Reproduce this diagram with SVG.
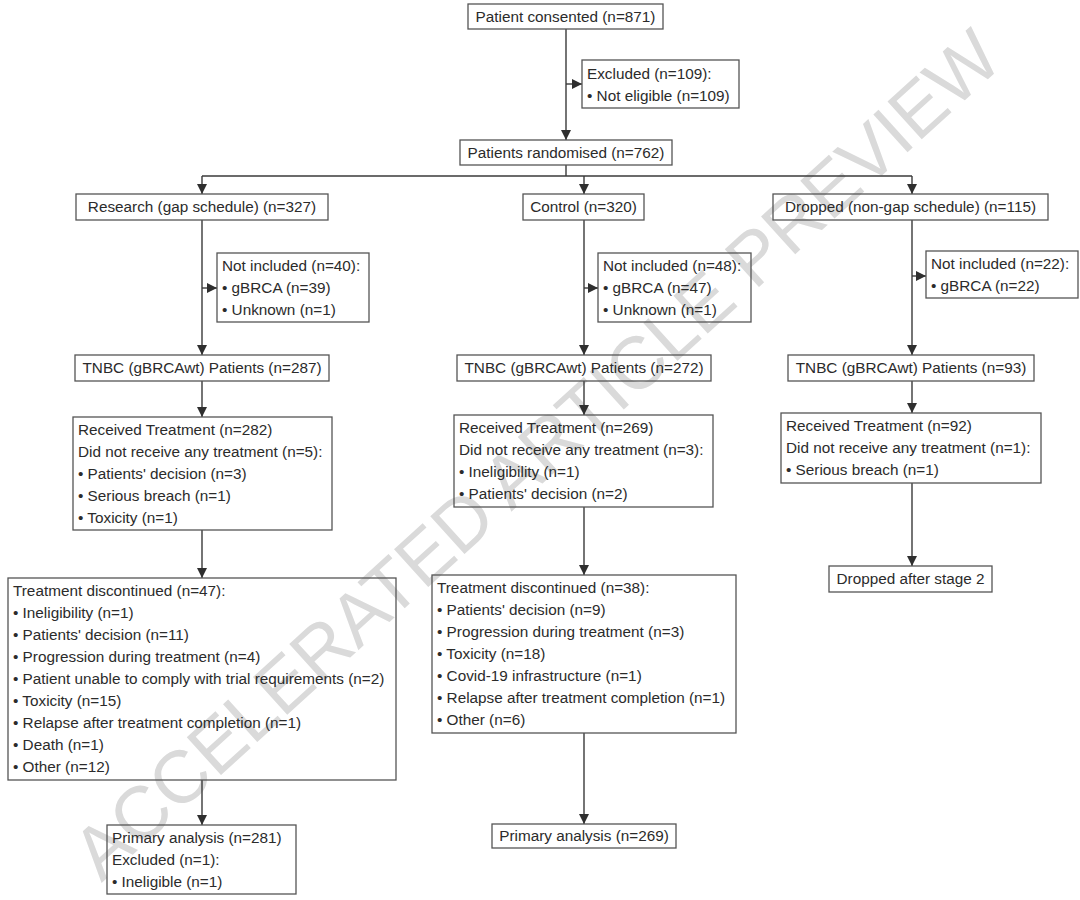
<svg xmlns="http://www.w3.org/2000/svg" width="1080" height="900" viewBox="0 0 1080 900">
<defs>
<style>
.box{fill:none;stroke:#555;stroke-width:1.3}
.t{font-family:"Liberation Sans",Arial,sans-serif;font-size:15.3px;fill:#2b2b2b}
.c{text-anchor:middle}
.ln{fill:none;stroke:#3a3a3a;stroke-width:1.4}
.wm{font-family:"Liberation Sans",Arial,sans-serif;font-size:74px;fill:#dadada;text-anchor:middle}
</style>
<marker id="ah" markerUnits="userSpaceOnUse" markerWidth="10" markerHeight="10" refX="10" refY="5" orient="auto">
<path d="M0,0 L10,5 L0,10 Z" fill="#2f2f2f"/>
</marker>
</defs>
<rect width="1080" height="900" fill="#fff"/>
<g id="watermark">
<text class="wm" x="536" y="480" transform="rotate(-42.2 536 454)" textLength="1220" lengthAdjust="spacing">ACCELERATED ARTICLE PREVIEW</text>
</g>
<g id="connectors">
<path class="ln" d="M566,29 V140" marker-end="url(#ah)"/>
<path class="ln" d="M566,84 H582" marker-end="url(#ah)"/>
<path class="ln" d="M566,165 V176"/>
<path class="ln" d="M202,176 H912"/>
<path class="ln" d="M202,176 V194" marker-end="url(#ah)"/>
<path class="ln" d="M584,176 V194" marker-end="url(#ah)"/>
<path class="ln" d="M912,176 V194" marker-end="url(#ah)"/>
<path class="ln" d="M202,220 V355" marker-end="url(#ah)"/>
<path class="ln" d="M202,288 H217" marker-end="url(#ah)"/>
<path class="ln" d="M584,220 V355" marker-end="url(#ah)"/>
<path class="ln" d="M584,288 H598" marker-end="url(#ah)"/>
<path class="ln" d="M912,220 V355" marker-end="url(#ah)"/>
<path class="ln" d="M912,276 H926" marker-end="url(#ah)"/>
<path class="ln" d="M202,381 V417" marker-end="url(#ah)"/>
<path class="ln" d="M584,381 V415" marker-end="url(#ah)"/>
<path class="ln" d="M912,381 V413" marker-end="url(#ah)"/>
<path class="ln" d="M202,530 V578" marker-end="url(#ah)"/>
<path class="ln" d="M584,507 V575" marker-end="url(#ah)"/>
<path class="ln" d="M912,483 V566" marker-end="url(#ah)"/>
<path class="ln" d="M202,780 V825" marker-end="url(#ah)"/>
<path class="ln" d="M584,733 V824" marker-end="url(#ah)"/>
</g>
<g id="consented"><rect class="box" x="468" y="4" width="195" height="25"/><text class="t c" x="565.5" y="22">Patient consented (n=871)</text></g>
<g id="excluded109"><rect class="box" x="582" y="60" width="157" height="48"/><text class="t" x="587" y="79">Excluded (n=109):</text><text class="t" x="587" y="101">• Not eligible (n=109)</text></g>
<g id="randomised"><rect class="box" x="460" y="140" width="212" height="25"/><text class="t c" x="566" y="158">Patients randomised (n=762)</text></g>
<g id="research"><rect class="box" x="76" y="194" width="252" height="26"/><text class="t c" x="202" y="212">Research (gap schedule) (n=327)</text></g>
<g id="control"><rect class="box" x="523" y="194" width="121" height="26"/><text class="t c" x="583.5" y="212">Control (n=320)</text></g>
<g id="dropped"><rect class="box" x="773" y="194" width="275" height="26"/><text class="t c" x="910.5" y="212">Dropped (non-gap schedule) (n=115)</text></g>
<g id="notincluded40"><rect class="box" x="217" y="253" width="152" height="69"/><text class="t" x="222" y="271">Not included (n=40):</text><text class="t" x="222" y="293">• gBRCA (n=39)</text><text class="t" x="222" y="315">• Unknown (n=1)</text></g>
<g id="notincluded48"><rect class="box" x="598" y="253" width="153" height="69"/><text class="t" x="603" y="271">Not included (n=48):</text><text class="t" x="603" y="293">• gBRCA (n=47)</text><text class="t" x="603" y="315">• Unknown (n=1)</text></g>
<g id="notincluded22"><rect class="box" x="926" y="251" width="152" height="47"/><text class="t" x="931" y="269">Not included (n=22):</text><text class="t" x="931" y="291">• gBRCA (n=22)</text></g>
<g id="tnbc287"><rect class="box" x="75" y="355" width="254" height="26"/><text class="t c" x="202" y="373">TNBC (gBRCAwt) Patients (n=287)</text></g>
<g id="tnbc272"><rect class="box" x="457" y="355" width="254" height="26"/><text class="t c" x="584" y="373">TNBC (gBRCAwt) Patients (n=272)</text></g>
<g id="tnbc93"><rect class="box" x="788" y="355" width="246" height="26"/><text class="t c" x="911" y="373">TNBC (gBRCAwt) Patients (n=93)</text></g>
<g id="received282"><rect class="box" x="73" y="417" width="259" height="113"/>
<text class="t" x="78" y="435">Received Treatment (n=282)</text>
<text class="t" x="78" y="457">Did not receive any treatment (n=5):</text>
<text class="t" x="78" y="479">• Patients' decision (n=3)</text>
<text class="t" x="78" y="501">• Serious breach (n=1)</text>
<text class="t" x="78" y="523">• Toxicity (n=1)</text></g>
<g id="received269"><rect class="box" x="454" y="415" width="259" height="92"/>
<text class="t" x="459" y="433">Received Treatment (n=269)</text>
<text class="t" x="459" y="455">Did not receive any treatment (n=3):</text>
<text class="t" x="459" y="477">• Ineligibility (n=1)</text>
<text class="t" x="459" y="499">• Patients' decision (n=2)</text></g>
<g id="received92"><rect class="box" x="781" y="413" width="260" height="70"/>
<text class="t" x="786" y="431">Received Treatment (n=92)</text>
<text class="t" x="786" y="453">Did not receive any treatment (n=1):</text>
<text class="t" x="786" y="475">• Serious breach (n=1)</text></g>
<g id="droppedstage2"><rect class="box" x="829" y="566" width="163" height="26"/><text class="t c" x="910.5" y="584">Dropped after stage 2</text></g>
<g id="discontinued47"><rect class="box" x="8" y="578" width="388" height="202"/>
<text class="t" x="13" y="596">Treatment discontinued (n=47):</text>
<text class="t" x="13" y="618">• Ineligibility (n=1)</text>
<text class="t" x="13" y="640">• Patients' decision (n=11)</text>
<text class="t" x="13" y="662">• Progression during treatment (n=4)</text>
<text class="t" x="13" y="684">• Patient unable to comply with trial requirements (n=2)</text>
<text class="t" x="13" y="706">• Toxicity (n=15)</text>
<text class="t" x="13" y="728">• Relapse after treatment completion (n=1)</text>
<text class="t" x="13" y="750">• Death (n=1)</text>
<text class="t" x="13" y="772">• Other (n=12)</text></g>
<g id="discontinued38"><rect class="box" x="432" y="575" width="304" height="158"/>
<text class="t" x="437" y="593">Treatment discontinued (n=38):</text>
<text class="t" x="437" y="615">• Patients' decision (n=9)</text>
<text class="t" x="437" y="637">• Progression during treatment (n=3)</text>
<text class="t" x="437" y="659">• Toxicity (n=18)</text>
<text class="t" x="437" y="681">• Covid-19 infrastructure (n=1)</text>
<text class="t" x="437" y="703">• Relapse after treatment completion (n=1)</text>
<text class="t" x="437" y="725">• Other (n=6)</text></g>
<g id="primary281"><rect class="box" x="107" y="825" width="189" height="69"/>
<text class="t" x="112" y="843">Primary analysis (n=281)</text>
<text class="t" x="112" y="865">Excluded (n=1):</text>
<text class="t" x="112" y="887">• Ineligible (n=1)</text></g>
<g id="primary269"><rect class="box" x="492" y="824" width="184" height="24"/><text class="t c" x="584" y="841">Primary analysis (n=269)</text></g>
</svg>
